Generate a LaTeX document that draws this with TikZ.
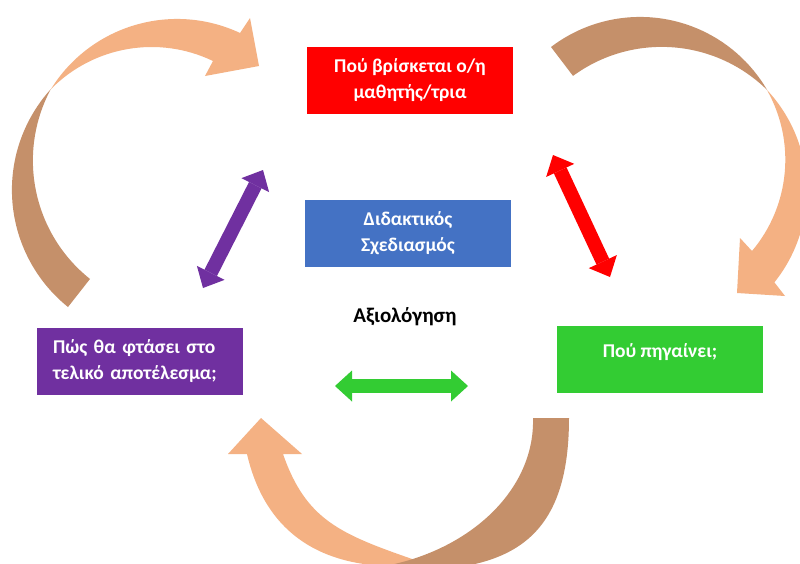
\documentclass[tikz,border=0pt]{standalone}
\usepackage{fontspec}
\setmainfont{Carlito}
\usetikzlibrary{arrows.meta}
\definecolor{cred}{HTML}{FF0000}
\definecolor{cblue}{HTML}{4472C4}
\definecolor{cpurple}{HTML}{7030A0}
\definecolor{cgreen}{HTML}{33CC33}
\definecolor{cdark}{HTML}{C5906A}
\definecolor{clight}{HTML}{F4B183}
\begin{document}
\begin{tikzpicture}[x=1pt,y=-1pt,
  box/.style={minimum width=206pt, minimum height=67pt, inner sep=0pt, text=white,
    font=\fontsize{19.5}{26}\selectfont\bfseries, align=center},
  dbl/.style={line width=14pt,
    arrows={Triangle[length=17pt,width=31pt,line width=0pt]-Triangle[length=17pt,width=31pt,line width=0pt]}},
  darkpart/.style={fill=cdark},
  lightpart/.style={fill=clight}]
\useasboundingbox (0,0) rectangle (800,563);
\fill[white] (0,0) rectangle (800,563);
\begin{scope}
\clip (0,0) rectangle (800,563);
% top-left ribbon arrow
\fill[darkpart] (68,307) arc[start angle=128.8, end angle=222.2, radius=150.2]
  arc[start angle=208.2, end angle=128.5, radius=151.3] -- cycle;
\fill[lightpart] (51,89) arc[start angle=211.9, end angle=295.1, radius=148.5]
  -- (250,18) -- (259,66) -- (205,76) -- (213,61)
  arc[start angle=295.7, end angle=224.7, radius=141.5] -- cycle;
% top-right ribbon arrow
\fill[darkpart] (551,47) arc[start angle=232.7, end angle=329.8, radius=147]
  arc[start angle=314.5, end angle=233.8, radius=150.3] -- cycle;
\fill[lightpart] (767,90) arc[start angle=316.9, end angle=398.7, radius=147]
  -- (785,296) -- (737,293) -- (740,238) -- (752,251)
  arc[start angle=40.1, end angle=-29.5, radius=141.7] -- cycle;
% bottom ribbon arrow
\fill[lightpart] (410,566) .. controls (325,570) and (266,536) .. (247,454)
  -- (228,454) -- (261,418) -- (302,454) -- (283,454)
  .. controls (306,520) and (340,534) .. (415,560) -- cycle;
\fill[darkpart] (569,418) .. controls (569,530) and (520,565) .. (430,570)
  -- (385,566) .. controls (470,550) and (535,490) .. (533,418) -- cycle;
\end{scope}
% boxes
\node[box, fill=cred] (where) at (410,80) {Πού βρίσκεται ο/η\\μαθητής/τρια};
\node[box, fill=cblue] (plan) at (408,233.5) {Διδακτικός\\Σχεδιασμός};
\node[box, fill=cpurple, align=left, text width=174pt, inner xsep=16pt] (how) at (140,361.5) {Πώς θα φτάσει στο\\τελικό αποτέλεσμα;};
\node[box, fill=cgreen, text height=13pt, text depth=17pt] (goal) at (660,359.5) {Πού πηγαίνει;};
\node[font=\fontsize{21}{25}\selectfont\bfseries, anchor=base] (assess) at (405,322) {Αξιολόγηση};
% double arrows
\coordinate (pu1) at (263,170);
\coordinate (pu2) at (203,288);
\coordinate (re1) at (553,155);
\coordinate (re2) at (610,277);
\coordinate (gr1) at (335,386);
\coordinate (gr2) at (468,386);
\draw[dbl, cpurple] (pu1) -- (pu2);
\draw[dbl, cred] (re1) -- (re2);
\draw[dbl, cgreen] (gr1) -- (gr2);
\end{tikzpicture}
\end{document}
